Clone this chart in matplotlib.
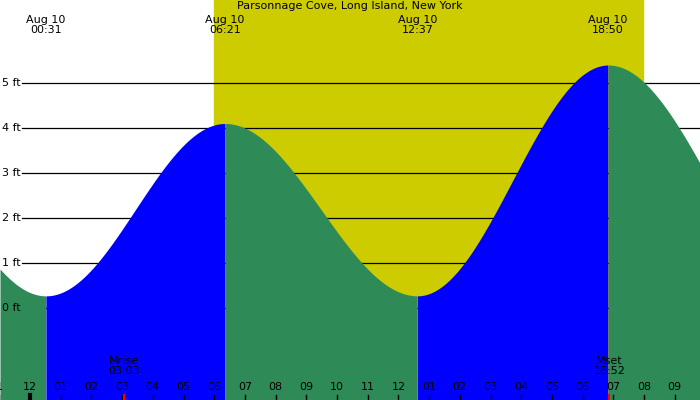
import numpy as np
import matplotlib.pyplot as plt

# tide extremes (hours from midnight Aug 10, feet); first and last are off-chart
ext_hours = [-5.8, 0.517, 6.35, 12.617, 18.833, 25.5]
ext_heights = [4.8, 0.27, 4.1, 0.27, 5.4, 0.2]
ext_labels = ["00:31", "06:21", "12:37", "18:50"]
hour_labels = ["1", "12", "01", "02", "03", "04", "05", "06", "07", "08", "09", "10",
               "11", "12", "01", "02", "03", "04", "05", "06", "07", "08", "09"]
sunrise, sunset = 5.99, 19.97
moonrise, moonset = 3.05, 18.87

PX_PER_H = 30.7
x0 = -30 / PX_PER_H
x1 = x0 + 700 / PX_PER_H
y0, y1 = -92 / 45, 308 / 45

def tide(t):
    out = np.empty_like(t)
    for i in range(len(ext_hours) - 1):
        a, b = ext_hours[i], ext_hours[i + 1]
        m = (t >= a) & (t <= b)
        f = (t[m] - a) / (b - a)
        ha, hb = ext_heights[i], ext_heights[i + 1]
        out[m] = hb + (ha - hb) * (1 + np.cos(np.pi * f)) / 2
    return out

fig = plt.figure(figsize=(7, 4), dpi=100)
ax = fig.add_axes([0, 0, 1, 1])
ax.set_xlim(x0, x1)
ax.set_ylim(y0, y1)
ax.set_facecolor("#bebebe")
ax.axvspan(sunrise, sunset, color="#cccc00", zorder=0)
for h in range(6):
    ax.plot([x0 + 0.72, x1], [h, h], color="black", lw=0.9, zorder=1)
    ax.text(x0 + 0.07, h, f"{h} ft", fontsize=8, va="center", zorder=4)

t = np.linspace(x0, x1, 2000)
y = tide(t)
for i in range(len(ext_hours) - 1):
    m = (t >= ext_hours[i]) & (t <= ext_hours[i + 1])
    rising = ext_heights[i + 1] > ext_heights[i]
    ax.fill_between(t[m], y0, y[m], color="#0000ff" if rising else "#2e8b57",
                    zorder=2, lw=0)

for h, lab in zip(ext_hours[1:5], ext_labels):
    ax.text(h, y1 - 0.56, "Aug 10\n" + lab, ha="center", va="center",
            fontsize=8, linespacing=0.95, zorder=5)
ax.text((x0 + x1) / 2, y1 - 0.02, "Parsonnage Cove, Long Island, New York",
        ha="center", va="top", fontsize=8, zorder=5)

for i, lab in enumerate(hour_labels):
    h = i - 1
    ax.text(h, y0 + 0.3, lab, ha="center", va="center", fontsize=8, zorder=5)
    ax.plot([h, h], [y0, y0 + 0.12], color="black", lw=1, zorder=5)
ax.plot([0, 0], [y0, y0 + 0.12], color="black", lw=3, zorder=5)
ax.plot([moonrise, moonrise], [y0, y0 + 0.12], color="red", lw=1.5, zorder=6)
ax.plot([moonset, moonset], [y0, y0 + 0.12], color="red", lw=1.5, zorder=6)
ax.text(moonrise, y0 + 0.75, "Mrise\n03:03", ha="center", va="center",
        fontsize=8, linespacing=0.95, zorder=5)
ax.text(moonset, y0 + 0.75, "Mset\n18:52", ha="center", va="center",
        fontsize=8, linespacing=0.95, zorder=5)
ax.axis("off")
fig.savefig("out.png", dpi=100)
